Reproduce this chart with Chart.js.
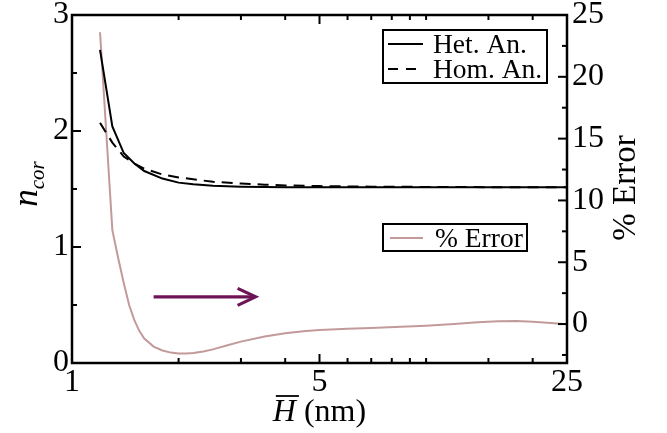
<!DOCTYPE html>
<html><head><meta charset="utf-8">
<script src="https://cdn.jsdelivr.net/npm/chart.js@4/dist/chart.umd.min.js"></script>
<style>html,body{margin:0;padding:0;background:#fff;} #wrap{width:667px;height:433px;position:relative;}</style>
</head><body><div id="wrap"><canvas id="c" width="667" height="433"></canvas></div>
<script>
// ---- data ----
const hX = [1.2,1.3,1.4,1.5,1.6,1.8,2.0,2.2,2.5,3,3.5,4,5,7,10,15,25];
const hetValues = [2.70,2.04,1.81,1.72,1.655,1.59,1.555,1.54,1.527,1.52,1.517,1.516,1.515,1.515,1.515,1.515,1.515];
const homValues = [2.07,1.90,1.78,1.72,1.675,1.625,1.60,1.584,1.562,1.547,1.537,1.531,1.525,1.52,1.518,1.516,1.515];
const errX = [1.2,1.3,1.35,1.4,1.45,1.5,1.55,1.6,1.7,1.8,1.9,2.0,2.1,2.2,2.35,2.5,2.75,3,3.5,4,4.5,5,6,7,8.5,10,12,14,16,18,20,22.5,25];
const errValues = [23.6,7.6,5.34,3.32,1.54,0.32,-0.57,-1.17,-1.82,-2.14,-2.31,-2.39,-2.39,-2.35,-2.22,-2.05,-1.72,-1.42,-1.0,-0.74,-0.58,-0.49,-0.38,-0.31,-0.22,-0.14,0.0,0.15,0.23,0.24,0.19,0.09,-0.02];
const xMajorTicks = [1,5,25];
const xMinorTicks = [2,3,4,6,7,8,9,10,15,20];
const yLeftTicks = [0,1,2,3];
const yLeftMinor = [0.5,1.5,2.5];
const yRightTicks = [0,5,10,15,20,25];
const yRightMinor = [-2.5,2.5,7.5,12.5,17.5,22.5];
const seriesNames = ['Het. An.','Hom. An.','% Error'];
const arrowX = [1.7, 3.3];
const arrowY = 2.2;

const FONT = "'Liberation Serif','Times New Roman',serif";
const ERR_COLOR = '#c39a9b';
const ARROW_COLOR = '#6e1456';

const toPts = (xs, ys) => xs.map((v,i)=>({x:v,y:ys[i]}));
const fixTicks = arr => scale => { scale.ticks = arr.map(v=>({value:v})); };
const zeroPad = (w,h) => scale => {
  if (w!=null) scale.width = w;
  if (h!=null) scale.height = h;
  scale.paddingTop = 0; scale.paddingBottom = 0; scale.paddingLeft = 0; scale.paddingRight = 0;
};

const deco = {
  id:'deco',
  afterDatasetsDraw(chart){
    const {ctx, chartArea:a, scales:{x,y,y1}} = chart;
    ctx.save();
    ctx.strokeStyle='#000';
    ctx.lineCap='butt';
    // frame
    ctx.lineWidth=2.5;
    ctx.strokeRect(a.left,a.top,a.right-a.left,a.bottom-a.top);
    ctx.lineWidth=2;
    const seg=(x1,y1_,x2,y2)=>{ctx.beginPath();ctx.moveTo(x1,y1_);ctx.lineTo(x2,y2);ctx.stroke();};
    const MAJ=9, MIN=5;
    xMajorTicks.forEach(v=>{const p=x.getPixelForValue(v); seg(p,a.bottom,p,a.bottom-MAJ); seg(p,a.top,p,a.top+MAJ);});
    xMinorTicks.forEach(v=>{const p=x.getPixelForValue(v); seg(p,a.bottom,p,a.bottom-MIN); seg(p,a.top,p,a.top+MIN);});
    yLeftTicks.forEach(v=>{const p=y.getPixelForValue(v); seg(a.left,p,a.left+MAJ,p);});
    yLeftMinor.forEach(v=>{const p=y.getPixelForValue(v); seg(a.left,p,a.left+MIN,p);});
    yRightTicks.forEach(v=>{const p=y1.getPixelForValue(v); seg(a.right,p,a.right-MAJ,p);});
    yRightMinor.forEach(v=>{const p=y1.getPixelForValue(v); seg(a.right,p,a.right-MIN,p);});

    // arrow
    const ax1=x.getPixelForValue(arrowX[0]), ax2=x.getPixelForValue(arrowX[1]), ay=y1.getPixelForValue(arrowY);
    ctx.strokeStyle=ARROW_COLOR; ctx.lineWidth=3.2;
    seg(ax1,ay,ax2-1,ay);
    ctx.lineJoin='miter';
    ctx.beginPath(); ctx.moveTo(ax2-18,ay-8.5); ctx.lineTo(ax2,ay); ctx.lineTo(ax2-18,ay+8.5); ctx.stroke();

    // legends
    ctx.strokeStyle='#000'; ctx.lineWidth=2;
    ctx.strokeRect(383,30,164,53);
    ctx.strokeRect(383,224,144,27);
    ctx.lineWidth=2;
    seg(388,44,423,44);
    ctx.setLineDash([10,8]); seg(388,69,423,69); ctx.setLineDash([]);
    ctx.strokeStyle=ERR_COLOR; seg(390,238,423,238);
    ctx.fillStyle='#000';
    ctx.font='27.5px '+FONT;
    ctx.textBaseline='alphabetic'; ctx.textAlign='left';
    ctx.fillText(seriesNames[0],433,53);
    ctx.fillText(seriesNames[1],433,78);
    ctx.fillText(seriesNames[2],435,247);

    // x title
    const cx=(a.left+a.right)/2;
    ctx.font='italic 32px '+FONT;
    const wH=ctx.measureText('H').width;
    ctx.font='32px '+FONT;
    const wR=ctx.measureText(' (nm)').width;
    const x0=cx-(wH+wR)/2, by=421;
    ctx.font='italic 32px '+FONT; ctx.fillText('H',x0,by);
    ctx.font='32px '+FONT; ctx.fillText(' (nm)',x0+wH,by);
    ctx.strokeStyle='#000'; ctx.lineWidth=1.8;
    seg(x0+3,396,x0+wH+3,396);

    // left title
    ctx.save();
    ctx.translate(37,184);
    ctx.rotate(-Math.PI/2);
    ctx.font='italic 35px '+FONT; const wn=ctx.measureText('n').width;
    ctx.font='italic 21px '+FONT; const wc=ctx.measureText('cor').width;
    const s=-(wn+wc)/2;
    ctx.font='italic 35px '+FONT; ctx.fillText('n',s,0);
    ctx.font='italic 21px '+FONT; ctx.fillText('cor',s+wn,7);
    ctx.restore();

    // right title
    ctx.save();
    ctx.translate(635,188);
    ctx.rotate(-Math.PI/2);
    ctx.font='33px '+FONT; ctx.textAlign='center';
    ctx.fillText('% Error',0,0);
    ctx.restore();

    ctx.restore();
  }
};

const tickFont = {family:FONT, size:32};

new Chart(document.getElementById('c'), {
  type:'scatter',
  data:{datasets:[
    {label:seriesNames[0], data:toPts(hX,hetValues), showLine:true, borderColor:'#000', borderWidth:2, pointRadius:0, tension:0, yAxisID:'y'},
    {label:seriesNames[1], data:toPts(hX,homValues), showLine:true, borderColor:'#000', borderWidth:2, borderDash:[11,7], pointRadius:0, tension:0, yAxisID:'y'},
    {label:seriesNames[2], data:toPts(errX,errValues), showLine:true, borderColor:ERR_COLOR, borderWidth:2, pointRadius:0, tension:0, yAxisID:'y1'}
  ]},
  options:{
    responsive:false, animation:false, devicePixelRatio:1,
    layout:{padding:{top:15,left:0,right:0,bottom:0}},
    plugins:{legend:{display:false}, tooltip:{enabled:false}},
    scales:{
      x:{type:'logarithmic', position:'bottom', min:1, max:25,
        grid:{display:false, drawTicks:false}, border:{display:false},
        afterBuildTicks:fixTicks(xMajorTicks), afterFit:zeroPad(null,70),
        ticks:{font:tickFont, color:'#000', padding:0, maxRotation:0, autoSkip:false, callback:v=>String(v)}},
      y:{type:'linear', position:'left', min:0, max:3,
        grid:{display:false, drawTicks:false}, border:{display:false},
        afterBuildTicks:fixTicks(yLeftTicks), afterFit:zeroPad(72,null),
        ticks:{font:tickFont, color:'#000', padding:3, callback:v=>String(v)}},
      y1:{type:'linear', position:'right', min:-3.15, max:25,
        grid:{display:false, drawTicks:false}, border:{display:false},
        afterBuildTicks:fixTicks(yRightTicks), afterFit:zeroPad(100,null),
        ticks:{font:tickFont, color:'#000', padding:5, callback:v=>String(v)}}
    }
  },
  plugins:[deco]
});
</script></body></html>
